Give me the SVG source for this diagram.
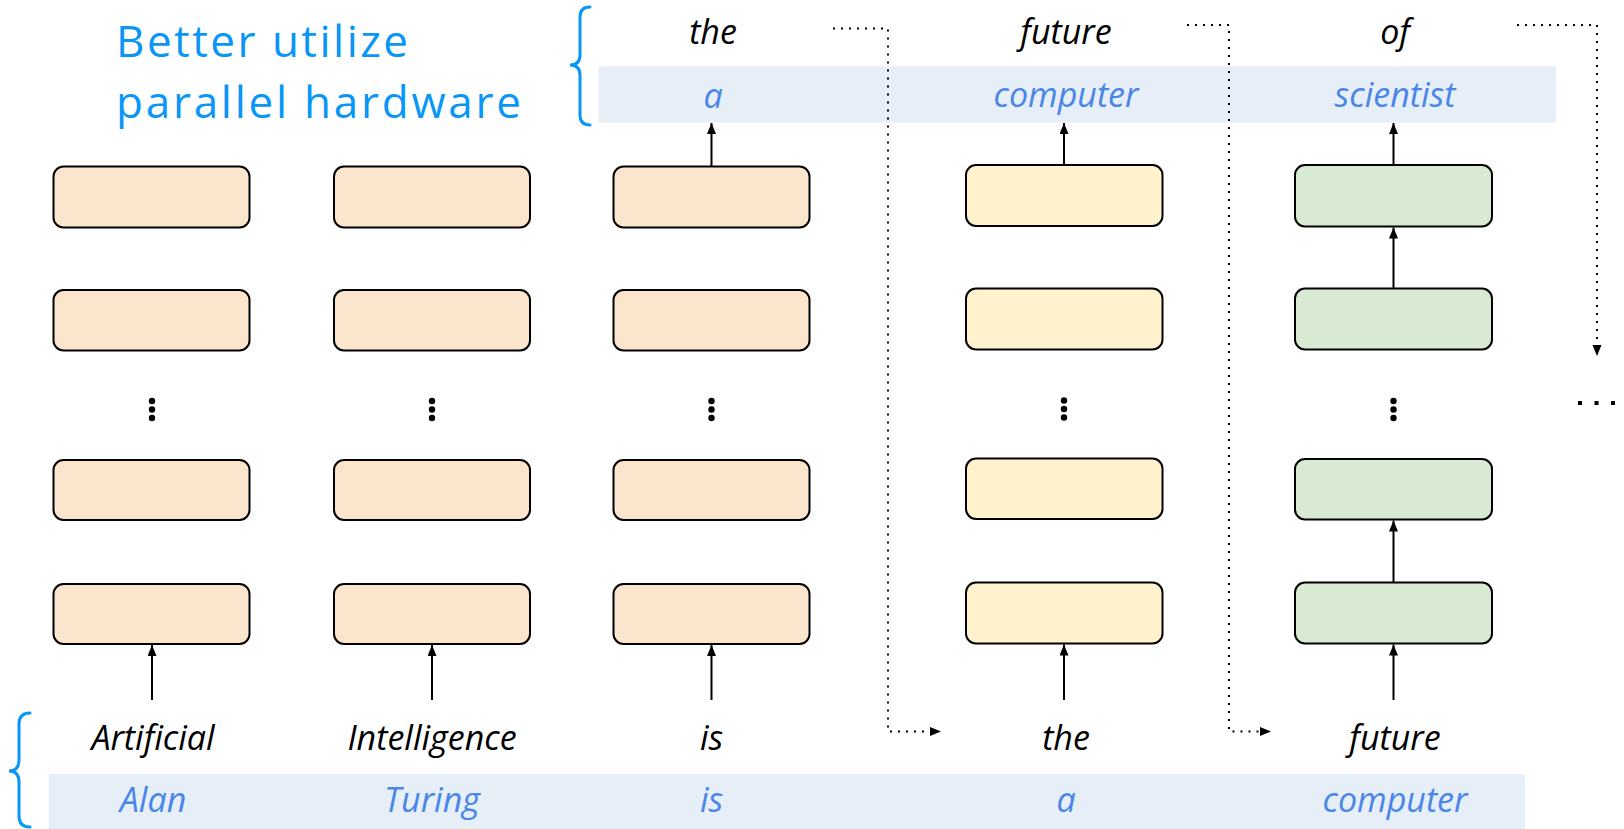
<svg xmlns="http://www.w3.org/2000/svg" width="1624" height="829" viewBox="0 0 1624 829">
<defs>
<marker id="arr" markerUnits="userSpaceOnUse" markerWidth="11" markerHeight="9" refX="11" refY="4.5" orient="auto">
<path d="M0,0 L11,4.5 L0,9 z" fill="#000"/>
</marker>
<style>
.box{stroke:#000;stroke-width:2;}
.o{fill:#fce5cd;}
.y{fill:#fff2cc;}
.g{fill:#d9ead3;}
.band{fill:#e6eef8;}
.w{font-family:"Open Sans","Noto Sans",sans-serif;font-style:italic;font-weight:500;font-size:34px;text-anchor:middle;fill:#000;}
.b{fill:#4a86e8;}
.title{font-family:"Open Sans","Noto Sans",sans-serif;font-size:44px;fill:#0a96f7;}
.brace{fill:none;stroke:#0a96f7;stroke-width:3;stroke-linecap:round;}
.arrow{fill:none;stroke:#000;stroke-width:2;marker-end:url(#arr);}
.dotarr{fill:none;stroke:#000;stroke-width:2;stroke-dasharray:2 6;}
.vd{fill:#000;}
</style>
</defs>
<rect width="1624" height="829" fill="#fff"/>

<g id="title">
<text class="title" x="116" y="57" textLength="292" lengthAdjust="spacing">Better utilize</text>
<text class="title" x="116" y="118" textLength="405" lengthAdjust="spacing">parallel hardware</text>
<path class="brace" d="M590,7 Q580,7 580,17 V55 Q580,65 570,65 Q580,65 580,75 V115 Q580,125 590,125"/>
</g>

<g id="top-band">
<rect class="band" x="598.5" y="66.5" width="957.5" height="56"/>
<text class="w" x="713" y="44">the</text>
<text class="w" x="1066" y="43.5">future</text>
<text class="w" x="1395" y="43.5">of</text>
<text class="w b" x="713" y="108">a</text>
<text class="w b" x="1066" y="107">computer</text>
<text class="w b" x="1395" y="107">scientist</text>
</g>

<g id="bottom-band">
<rect class="band" x="49" y="774" width="1476" height="55"/>
<path class="brace" d="M30,713 Q19,713 19,724 V760 Q19,771 9,771 Q19,771 19,782 V816 Q19,827 30,827"/>
<text class="w" x="153" y="749.5">Artificial</text>
<text class="w" x="432" y="749.5">Intelligence</text>
<text class="w" x="711.5" y="749.5">is</text>
<text class="w" x="1066" y="749.5">the</text>
<text class="w" x="1395" y="749.5">future</text>
<text class="w b" x="153" y="811.5">Alan</text>
<text class="w b" x="432" y="811.5">Turing</text>
<text class="w b" x="711.5" y="811.5">is</text>
<text class="w b" x="1066" y="811.5">a</text>
<text class="w b" x="1395" y="811.5">computer</text>
</g>

<g id="col1">
<rect class="box o" x="53.5" y="166.5" width="196" height="61" rx="10"/>
<rect class="box o" x="53.5" y="290" width="196" height="60.5" rx="10"/>
<circle class="vd" cx="152" cy="401" r="3.2"/><circle class="vd" cx="152" cy="409.5" r="3.2"/><circle class="vd" cx="152" cy="418" r="3.2"/>
<rect class="box o" x="53.5" y="460" width="196" height="60" rx="10"/>
<rect class="box o" x="53.5" y="584" width="196" height="60" rx="10"/>
</g>
<g id="col2">
<rect class="box o" x="334" y="166.5" width="196" height="61" rx="10"/>
<rect class="box o" x="334" y="290" width="196" height="60.5" rx="10"/>
<circle class="vd" cx="432" cy="401" r="3.2"/><circle class="vd" cx="432" cy="409.5" r="3.2"/><circle class="vd" cx="432" cy="418" r="3.2"/>
<rect class="box o" x="334" y="460" width="196" height="60" rx="10"/>
<rect class="box o" x="334" y="584" width="196" height="60" rx="10"/>
</g>
<g id="col3">
<rect class="box o" x="613.5" y="166.5" width="196" height="61" rx="10"/>
<rect class="box o" x="613.5" y="290" width="196" height="60.5" rx="10"/>
<circle class="vd" cx="711.5" cy="401" r="3.2"/><circle class="vd" cx="711.5" cy="409.5" r="3.2"/><circle class="vd" cx="711.5" cy="418" r="3.2"/>
<rect class="box o" x="613.5" y="460" width="196" height="60" rx="10"/>
<rect class="box o" x="613.5" y="584" width="196" height="60" rx="10"/>
</g>
<g id="col4">
<rect class="box y" x="966" y="165" width="196.5" height="61" rx="10"/>
<rect class="box y" x="966" y="288.5" width="196.5" height="61" rx="10"/>
<circle class="vd" cx="1064" cy="400.5" r="3.2"/><circle class="vd" cx="1064" cy="409" r="3.2"/><circle class="vd" cx="1064" cy="417.5" r="3.2"/>
<rect class="box y" x="966" y="458.5" width="196.5" height="60.5" rx="10"/>
<rect class="box y" x="966" y="582.5" width="196.5" height="61" rx="10"/>
</g>
<g id="col5">
<rect class="box g" x="1295" y="165" width="197" height="61.5" rx="10"/>
<rect class="box g" x="1295" y="288.5" width="197" height="61" rx="10"/>
<circle class="vd" cx="1393.5" cy="401" r="3.2"/><circle class="vd" cx="1393.5" cy="409.5" r="3.2"/><circle class="vd" cx="1393.5" cy="418" r="3.2"/>
<rect class="box g" x="1295" y="459" width="197" height="60.5" rx="10"/>
<rect class="box g" x="1295" y="582.5" width="197" height="61" rx="10"/>
</g>
<g id="ellipsis">
<rect class="vd" x="1578" y="401" width="4" height="4"/>
<rect class="vd" x="1594.5" y="401" width="4" height="4"/>
<rect class="vd" x="1611" y="401" width="4" height="4"/>
</g>

<g id="connectors">
<path class="arrow" d="M152,700 V645"/>
<path class="arrow" d="M432,700 V645"/>
<path class="arrow" d="M711.5,700 V645"/>
<path class="arrow" d="M1064,700 V644.5"/>
<path class="arrow" d="M1393.5,700 V644.5"/>
<path class="arrow" d="M711.5,166.5 V123"/>
<path class="arrow" d="M1064,165 V123"/>
<path class="arrow" d="M1393.5,165 V123"/>
<path class="arrow" d="M1393.5,288.5 V227.5"/>
<path class="arrow" d="M1393.5,582.5 V520.5"/>
<path class="dotarr" d="M833,28.5 H888 V731.5 H932"/>
<path d="M930,727 L941,731.5 L930,736 z" fill="#000"/>
<path class="dotarr" d="M1187,25 H1229 V731.5 H1262"/>
<path d="M1260,727 L1271,731.5 L1260,736 z" fill="#000"/>
<path class="dotarr" d="M1517,25 H1597 V347"/>
<path d="M1592.5,345 L1597,356 L1601.5,345 z" fill="#000"/>
</g>
</svg>
